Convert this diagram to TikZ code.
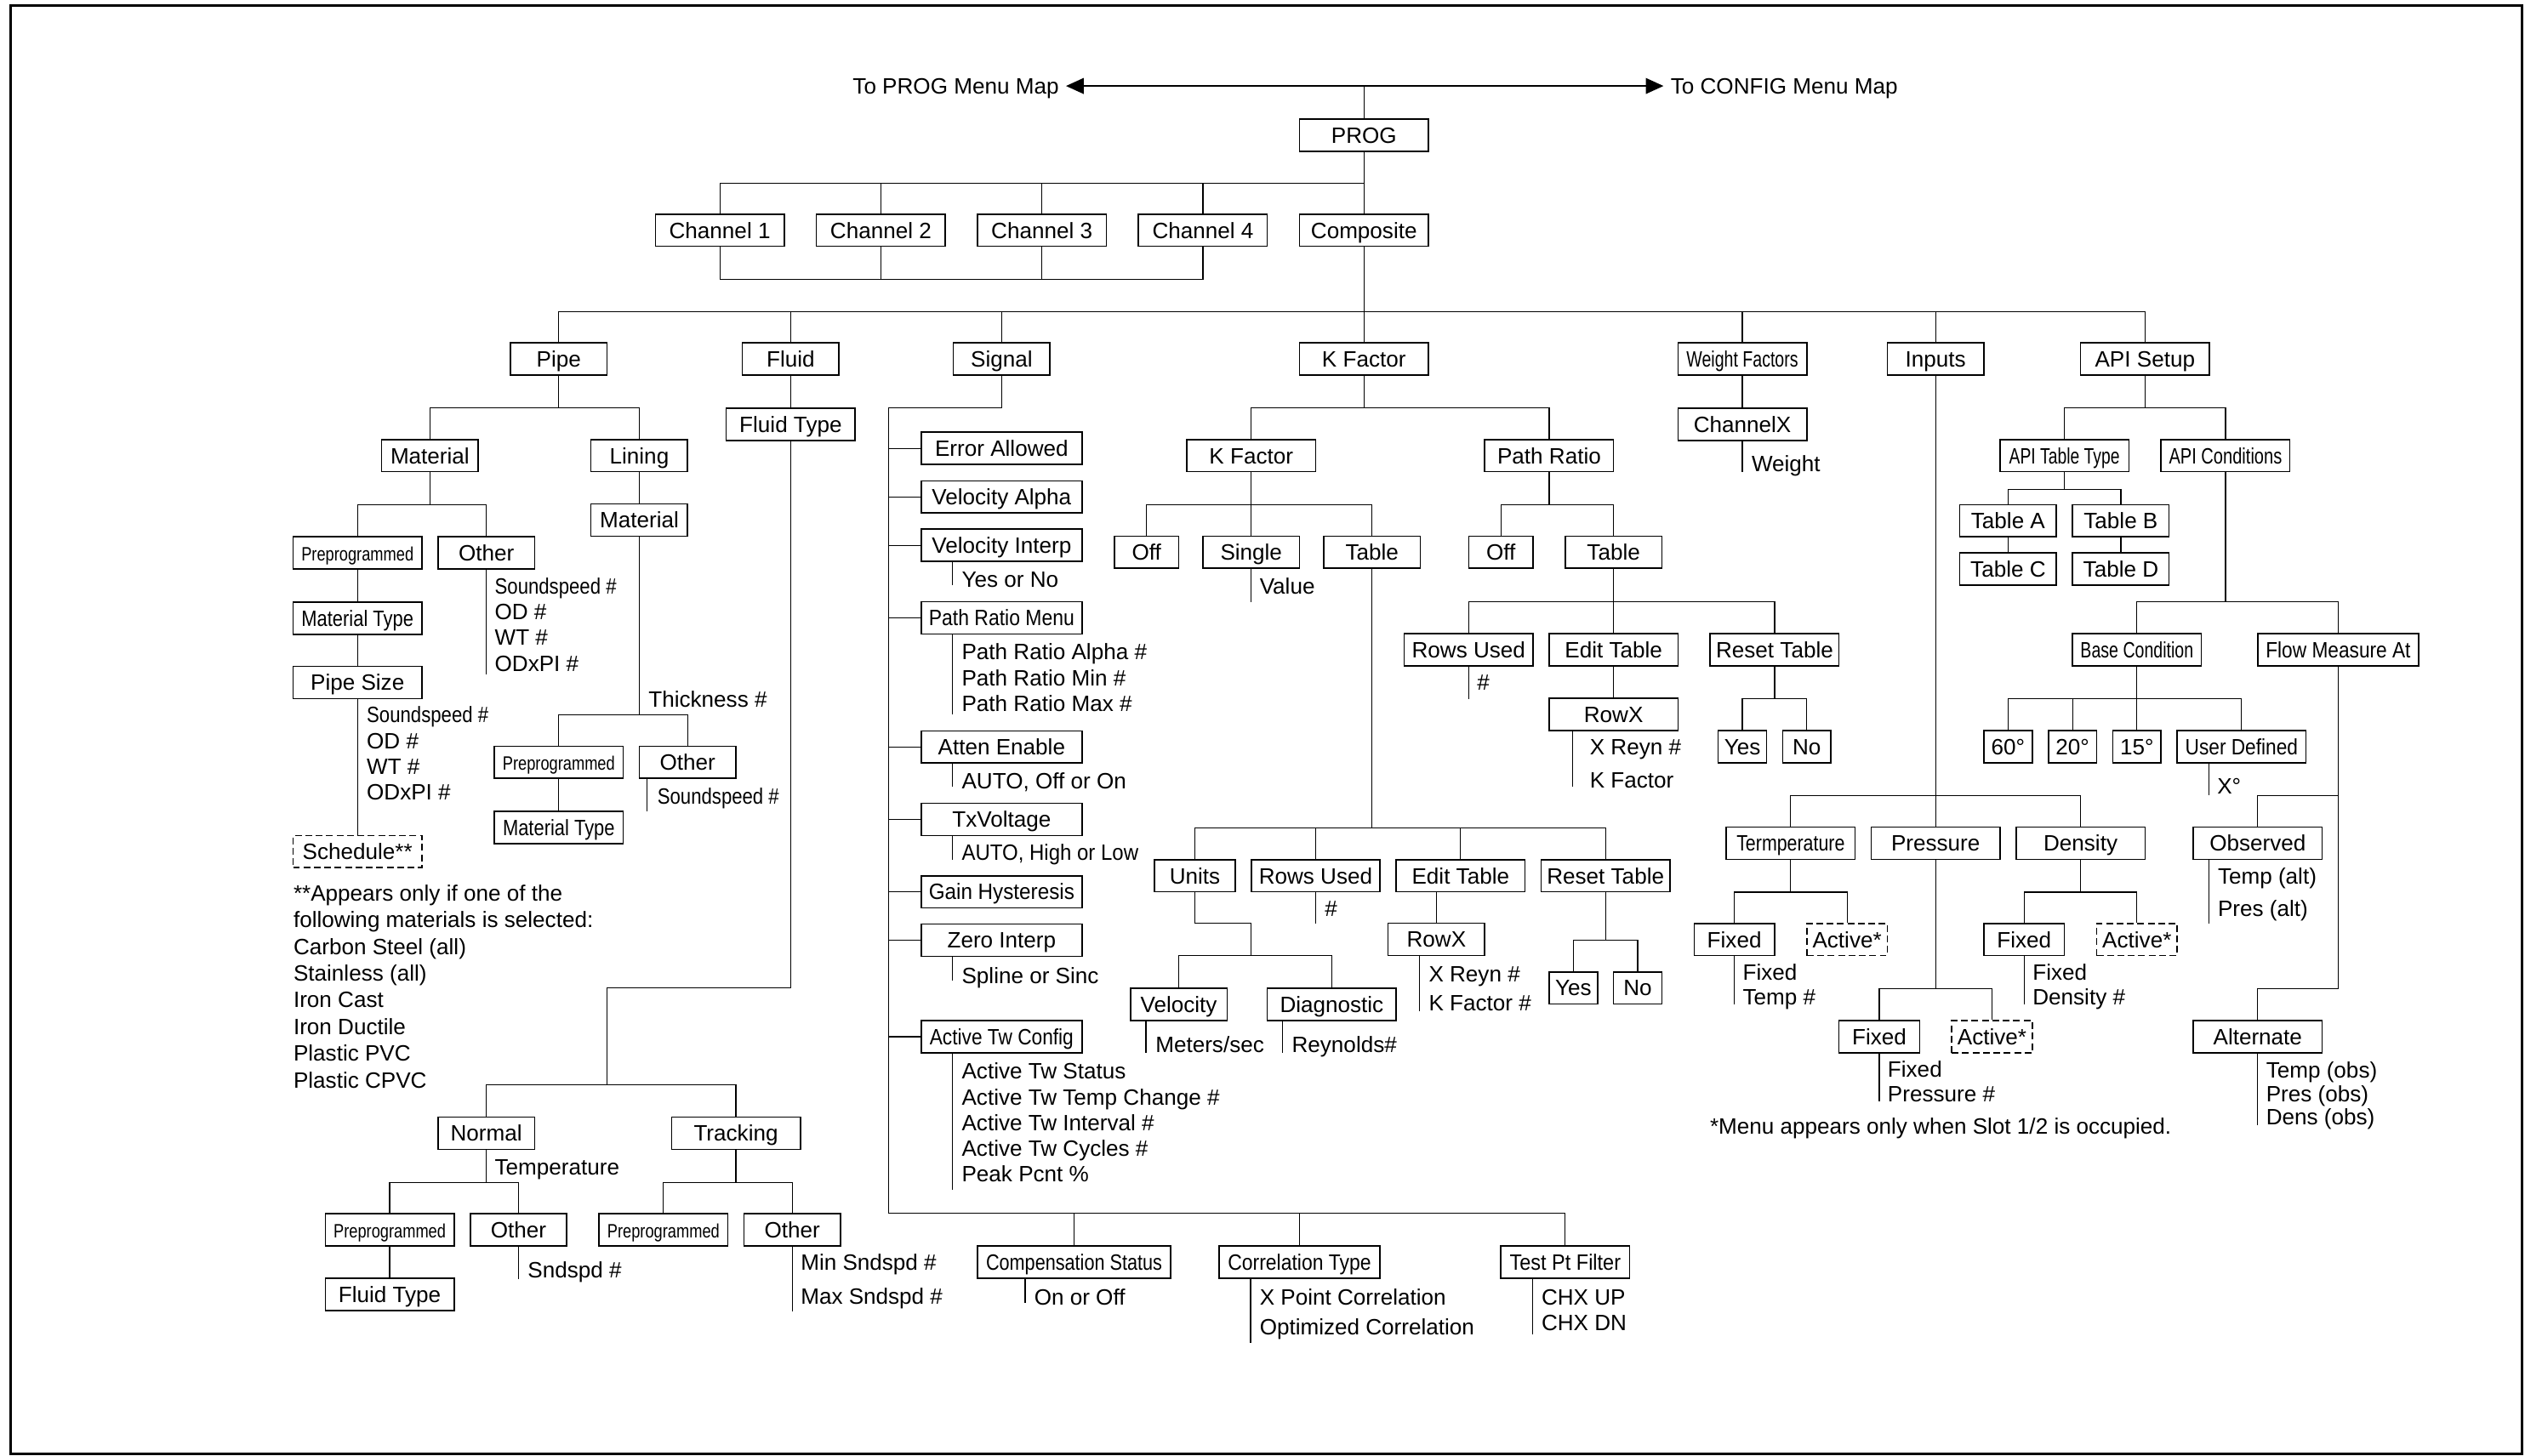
\documentclass[tikz,border=0pt]{standalone}
\usepackage{fontspec}
\setmainfont{Liberation Sans}
\usepackage{graphicx}
\usetikzlibrary{arrows.meta}
\newcommand{\mapfont}{\fontsize{9.8}{11.8}\selectfont}
\newcommand{\sqz}[3][1]{\scalebox{#2}[#1]{#3}}

\begin{document}
\begin{tikzpicture}
	[
		x={(0.025cm,0cm)},
		y={(0cm,-0.025cm)},
		box/.style={draw, line width=0.6pt, minimum height=0.5cm, inner sep=1pt,
			text height=7pt, text depth=0pt, font=\mapfont},
		dbox/.style={box, dash pattern=on 3pt off 1.6pt},
		wd/.style={minimum width=#1*0.025cm},
		lbl/.style={anchor=west, inner sep=0pt, text height=7pt, text depth=0pt, font=\mapfont},
		link/.style={line width=0.45pt},
		maparrow/.style={line width=0.45pt, {Triangle[length=7.8pt,width=7pt]}-{Triangle[length=7.8pt,width=7pt]}}
	]
	\useasboundingbox (0,0) rectangle (1568,904);
	\draw[line width=1.1pt] (6.6,3.2) rectangle (1566.3,903.2);

	% Top
	\node[lbl, anchor=east, inner sep=3pt] (toprog) at (662,53.4) {To PROG Menu Map};
	\node[lbl, inner sep=3pt] (toconf) at (1033,53.4) {To CONFIG Menu Map};
	\draw[maparrow] (toprog) -- (toconf);
	\node[box, wd=80] (prog) at (847,84) {PROG};
	\draw[link] (prog.north) -- (prog.north |- toprog.east);
	\foreach \n/\x in {1/447,2/547,3/647,4/747}
		\node[box, wd=80] (ch\n) at (\x,143) {Channel \n};
	\node[box, wd=80] (comp) at (847,143) {Composite};
	\draw[link] (prog.south) -- (comp.north);
	\foreach \n in {1,...,4}
		\draw[link] (prog.south) -- ++(0,19.5) -| (ch\n.north);
	\draw[link] (ch1.south) -- ++(0,20) -| (ch4.south);
	\draw[link] (ch2.south) -- ++(0,20);
	\draw[link] (ch3.south) -- ++(0,20);

	% Composite menu
	\node[box, wd=60] (pipe) at (347,223) {Pipe};
	\node[box, wd=60] (fluid) at (491,223) {Fluid};
	\node[box, wd=60] (signal) at (622,223) {Signal};
	\node[box, wd=80] (kfac) at (847,223) {K Factor};
	\node[box, wd=80] (wfac) at (1082,223) {\sqz{0.75}{Weight Factors}};
	\node[box, wd=60] (inputs) at (1202,223) {Inputs};
	\node[box, wd=80] (api) at (1332,223) {API Setup};
	\draw[link] (comp.south) -- (kfac.north);
	\foreach \n in {pipe,fluid,signal,wfac,inputs,api}
		\draw[link] (comp.south) -- ++(0,40) -| (\n.north);

	% Pipe
	\node[box, wd=60] (mat) at (267,283) {Material};
	\node[box, wd=60] (lin) at (397,283) {Lining};
	\foreach \n in {mat,lin}
		\draw[link] (pipe.south) -- ++(0,20) -| (\n.north);
	\node[box, wd=80] (pre1) at (222,343.5) {\sqz[0.87]{0.70}{Preprogrammed}};
	\node[box, wd=60] (oth1) at (302,343.5) {Other};
	\foreach \n in {pre1,oth1}
		\draw[link] (mat.south) -- ++(0,20) -| (\n.north);
	\node[box, wd=80] (mtype1) at (222,384) {\sqz{0.84}{Material Type}};
	\node[box, wd=80] (psize) at (222,424) {Pipe Size};
	\node[dbox, wd=80] (sched) at (222,529) {Schedule**};
	\draw[link] (pre1.south) -- (mtype1.north);
	\draw[link] (mtype1.south) -- (psize.north);
	\draw[link] (psize.south) -- (sched.north);
	\draw[link] (oth1.south) -- ++(0,65);
	\foreach \y/\txt [count=\i] in {364/\sqz{0.85}{Soundspeed \#},380/OD \#,396/WT \#,412/ODxPI \#}
		\node[lbl] (oth1l\i) at (307,\y) {\txt};
	\foreach \y/\txt [count=\i] in {444/\sqz{0.85}{Soundspeed \#},460/OD \#,476/WT \#,492/ODxPI \#}
		\node[lbl] (psizel\i) at (227.5,\y) {\txt};
	\foreach \y/\txt [count=\i] in {554.7/**Appears only if one of the,
			571.3/following materials is selected:, 588/Carbon Steel (all),
			604.5/Stainless (all), 621/Iron Cast, 637.5/Iron Ductile,
			654/Plastic PVC, 671/Plastic CPVC}
		\node[lbl] (note\i) at (182,\y) {\txt};

	% Lining
	\node[box, wd=60] (lmat) at (397,323) {Material};
	\draw[link] (lin.south) -- (lmat.north);
	\node[box, wd=80] (pre2) at (347,473.5) {\sqz[0.87]{0.70}{Preprogrammed}};
	\node[box, wd=60] (oth2) at (427,473.5) {Other};
	\foreach \n in {pre2,oth2}
		\draw[link] (lmat.south) -- ++(0,110.8) -| (\n.north);
	\node[lbl] (thick) at (402.5,434.6) {Thickness \#};
	\node[box, wd=80] (mtype2) at (347,514) {\sqz{0.84}{Material Type}};
	\draw[link] (pre2.south) -- (mtype2.north);
	\draw[link] (oth2.south west) ++(5,0) -- ++(0,20);
	\node[lbl] (oth2l) at (408,494.5) {\sqz{0.85}{Soundspeed \#}};

	% Fluid
	\node[box, wd=80] (ftype1) at (491,263.5) {Fluid Type};
	\draw[link] (fluid.south) -- (ftype1.north);
	\coordinate (fbend) at (377,613.7);
	\node[box, wd=60] (normal) at (302,704) {Normal};
	\node[box, wd=80] (track) at (457,704) {Tracking};
	\draw[link] (ftype1.south) |- (fbend) -- ++(0,60) -| (normal.north);
	\draw[link] (fbend) ++(0,60) -| (track.north);
	\node[lbl] (ntemp) at (307,724.7) {Temperature};
	\node[box, wd=80] (pre3) at (242,764) {\sqz[0.87]{0.70}{Preprogrammed}};
	\node[box, wd=60] (oth3) at (322,764) {Other};
	\foreach \n in {pre3,oth3}
		\draw[link] (normal.south) -- ++(0,20) -| (\n.north);
	\node[box, wd=80] (ftype2) at (242,804) {Fluid Type};
	\draw[link] (pre3.south) -- (ftype2.north);
	\draw[link] (oth3.south) -- ++(0,20);
	\node[lbl] (oth3l) at (327.5,789) {Sndspd \#};
	\node[box, wd=80] (pre4) at (412,764) {\sqz[0.87]{0.70}{Preprogrammed}};
	\node[box, wd=60] (oth4) at (492,764) {Other};
	\foreach \n in {pre4,oth4}
		\draw[link] (track.south) -- ++(0,20) -| (\n.north);
	\draw[link] (oth4.south) -- ++(0,40);
	\node[lbl] (oth4l1) at (497,784) {Min Sndspd \#};
	\node[lbl] (oth4l2) at (497,805) {Max Sndspd \#};

	% Signal
	\coordinate (sbus) at (552,253.5);
	\coordinate (sbot) at (552,753.8);
	\draw[link] (signal.south) |- (sbus) -- (sbot);
	\foreach \n/\y/\txt in {errall/278.5/Error Allowed, valpha/308.7/Velocity Alpha,
			vinterp/338.7/Velocity Interp, prmenu/383.8/{\sqz{0.88}{Path Ratio Menu}},
			atten/464/Atten Enable, txv/509/TxVoltage,
			gainh/554/{\sqz{0.93}{Gain Hysteresis}}, zinterp/584/Zero Interp,
			atw/644/{\sqz{0.87}{Active Tw Config}}}
		{
			\node[box, wd=100] (\n) at (622,\y) {\txt};
			\draw[link] (\n.west) -- (\n.west -| sbus);
		}
	\draw[link] (vinterp.south west) ++(20,0) -- ++(0,14.5);
	\node[lbl] (vinterpl) at (597,359.8) {Yes or No};
	\draw[link] (prmenu.south west) ++(20,0) -- ++(0,49.6);
	\foreach \y/\txt [count=\i] in {405/Path Ratio Alpha \#, 421/Path Ratio Min \#, 437/Path Ratio Max \#}
		\node[lbl] (prmenul\i) at (597,\y) {\txt};
	\draw[link] (atten.south west) ++(20,0) -- ++(0,14);
	\node[lbl] (attenl) at (597,485) {AUTO, Off or On};
	\draw[link] (txv.south west) ++(20,0) -- ++(0,14.6);
	\node[lbl] (txvl) at (597,529.4) {\sqz{0.92}{AUTO, High or Low}};
	\draw[link] (zinterp.south west) ++(20,0) -- ++(0,14.6);
	\node[lbl] (zinterpl) at (597,605.8) {Spline or Sinc};
	\draw[link] (atw.south west) ++(20,0) -- ++(0,84.6);
	\foreach \y/\txt [count=\i] in {665/Active Tw Status, 681.5/Active Tw Temp Change \#,
			697.4/Active Tw Interval \#, 713.3/Active Tw Cycles \#, 729.4/Peak Pcnt \%}
		\node[lbl] (atwl\i) at (597,\y) {\txt};
	\node[box, wd=120] (compst) at (667,784) {\sqz{0.83}{Compensation Status}};
	\node[box, wd=100] (corr) at (807,784) {\sqz{0.88}{Correlation Type}};
	\node[box, wd=80] (tpf) at (972,784) {\sqz{0.9}{Test Pt Filter}};
	\foreach \n in {compst,corr,tpf}
		\draw[link] (sbot) -| (\n.north);
	\draw[link] (compst.south west) ++(30,0) -- ++(0,15);
	\node[lbl] (compstl) at (642,805.5) {On or Off};
	\draw[link] (corr.south west) ++(20,0) -- ++(0,39.5);
	\node[lbl] (corrl1) at (782,805.5) {X Point Correlation};
	\node[lbl] (corrl2) at (782,824) {Optimized Correlation};
	\draw[link] (tpf.south west) ++(20,0) -- ++(0,34.6);
	\node[lbl] (tpfl1) at (957,805.5) {CHX UP};
	\node[lbl] (tpfl2) at (957,821.4) {CHX DN};

	% K Factor
	\node[box, wd=80] (kf2) at (777,283) {K Factor};
	\node[box, wd=80] (pratio) at (962,283) {Path Ratio};
	\foreach \n in {kf2,pratio}
		\draw[link] (kfac.south) -- ++(0,20) -| (\n.north);
	\node[box, wd=40] (off1) at (712,343) {Off};
	\node[box, wd=60] (single) at (777,343) {Single};
	\node[box, wd=60] (table1) at (852,343) {Table};
	\draw[link] (kf2.south) -- (single.north);
	\foreach \n in {off1,table1}
		\draw[link] (kf2.south) -- ++(0,20) -| (\n.north);
	\draw[link] (single.south) -- ++(0,20.5);
	\node[lbl] (singlel) at (782,364) {Value};
	\node[box, wd=50] (units) at (742,544) {Units};
	\node[box, wd=80] (rows1) at (817,544) {Rows Used};
	\node[box, wd=80] (edit1) at (907,544) {Edit Table};
	\node[box, wd=80] (reset1) at (997,544) {Reset Table};
	\foreach \n in {units,rows1,edit1,reset1}
		\draw[link] (table1.south) -- ++(0,160.8) -| (\n.north);
	\draw[link] (rows1.south) -- ++(0,19.5);
	\node[lbl] (rows1l) at (822.5,564.5) {\#};
	\coordinate (ubend) at (777,573.5);
	\node[box, wd=60] (velo) at (732,624) {Velocity};
	\node[box, wd=80] (diag) at (827,624) {Diagnostic};
	\draw[link] (units.south) |- (ubend) -- ++(0,20.1) -| (velo.north);
	\draw[link] (ubend) ++(0,20.1) -| (diag.north);
	\draw[link] (velo.south west) ++(10,0) -- ++(0,19.7);
	\node[lbl] (velol) at (717.3,649) {Meters/sec};
	\draw[link] (diag.south west) ++(10,0) -- ++(0,19.7);
	\node[lbl] (diagl) at (802,649) {Reynolds\#};
	\node[box, wd=60] (rowx1) at (892,583.5) {RowX};
	\draw[link] (edit1.south -| rowx1.north) -- (rowx1.north);
	\draw[link] (rowx1.south west) ++(20,0) -- ++(0,34.4);
	\node[lbl] (rowx1l1) at (887,605) {X Reyn \#};
	\node[lbl] (rowx1l2) at (887,623) {K Factor \#};
	\node[box, wd=30] (yes1) at (977,613.7) {Yes};
	\node[box, wd=30] (no1) at (1017,613.7) {No};
	\foreach \n in {yes1,no1}
		\draw[link] (reset1.south) -- ++(0,29.7) -| (\n.north);

	% Path Ratio
	\node[box, wd=40] (off2) at (932,343) {Off};
	\node[box, wd=60] (table2) at (1002,343) {Table};
	\foreach \n in {off2,table2}
		\draw[link] (pratio.south) -- ++(0,20) -| (\n.north);
	\node[box, wd=80] (rows2) at (912,403.7) {Rows Used};
	\node[box, wd=80] (edit2) at (1002,403.7) {Edit Table};
	\node[box, wd=80] (reset2) at (1102,403.7) {Reset Table};
	\foreach \n in {rows2,edit2,reset2}
		\draw[link] (table2.south) -- ++(0,20.5) -| (\n.north);
	\draw[link] (rows2.south) -- ++(0,19.9);
	\node[lbl] (rows2l) at (917,424) {\#};
	\node[box, wd=80] (rowx2) at (1002,443.7) {RowX};
	\draw[link] (edit2.south) -- (rowx2.north);
	\draw[link] (rowx2.south west) ++(15,0) -- ++(0,34.3);
	\node[lbl] (rowx2l1) at (987,463.8) {X Reyn \#};
	\node[lbl] (rowx2l2) at (987,484.5) {K Factor};
	\node[box, wd=30] (yes2) at (1082,463.8) {Yes};
	\node[box, wd=30] (no2) at (1122,463.8) {No};
	\foreach \n in {yes2,no2}
		\draw[link] (reset2.south) -- ++(0,19.9) -| (\n.north);

	% Weight Factors
	\node[box, wd=80] (chx) at (1082,263.5) {ChannelX};
	\draw[link] (wfac.south) -- (chx.north);
	\draw[link] (chx.south) -- ++(0,19.5);
	\node[lbl] (chxl) at (1087.5,288) {Weight};

	% Inputs
	\node[box, wd=80] (temp) at (1112,523.8) {\sqz{0.82}{Termperature}};
	\node[box, wd=80] (press) at (1202,523.8) {Pressure};
	\node[box, wd=80] (dens) at (1292,523.8) {Density};
	\draw[link] (inputs.south) -- (press.north);
	\foreach \n in {temp,dens}
		\draw[link] (inputs.south) -- ++(0,260.8) -| (\n.north);
	\node[box, wd=50] (fix1) at (1077,583.6) {Fixed};
	\node[dbox, wd=50] (act1) at (1147,583.6) {Active*};
	\foreach \n in {fix1,act1}
		\draw[link] (temp.south) -- ++(0,20) -| (\n.north);
	\draw[link] (fix1.south) -- ++(0,29.8);
	\node[lbl] (fix1l1) at (1082,603.8) {Fixed};
	\node[lbl] (fix1l2) at (1082,619) {Temp \#};
	\node[box, wd=50] (fix2) at (1167,644) {Fixed};
	\node[dbox, wd=50] (act2) at (1237,644) {Active*};
	\foreach \n in {fix2,act2}
		\draw[link] (press.south) -- ++(0,79.9) -| (\n.north);
	\draw[link] (fix2.south) -- ++(0,29.6);
	\node[lbl] (fix2l1) at (1172,664) {Fixed};
	\node[lbl] (fix2l2) at (1172,679.5) {Pressure \#};
	\node[box, wd=50] (fix3) at (1257,583.6) {Fixed};
	\node[dbox, wd=50] (act3) at (1327,583.6) {Active*};
	\foreach \n in {fix3,act3}
		\draw[link] (dens.south) -- ++(0,20) -| (\n.north);
	\draw[link] (fix3.south) -- ++(0,29.8);
	\node[lbl] (fix3l1) at (1262,603.8) {Fixed};
	\node[lbl] (fix3l2) at (1262,619) {Density \#};
	\node[lbl] (slotnote) at (1061.6,699.5) {*Menu appears only when Slot 1/2 is occupied.};

	% API Setup
	\node[box, wd=80] (att) at (1282,283) {\sqz{0.74}{API Table Type}};
	\node[box, wd=80] (acond) at (1382,283) {\sqz{0.77}{API Conditions}};
	\foreach \n in {att,acond}
		\draw[link] (api.south) -- ++(0,20) -| (\n.north);
	\node[box, wd=60] (tabA) at (1247,323.5) {Table A};
	\node[box, wd=60] (tabB) at (1317,323.5) {Table B};
	\node[box, wd=60] (tabC) at (1247,353.5) {Table C};
	\node[box, wd=60] (tabD) at (1317,353.5) {Table D};
	\foreach \n in {tabA,tabB}
		\draw[link] (att.south) -- ++(0,10.5) -| (\n.north);
	\draw[link] (tabA.south) -- (tabC.north);
	\draw[link] (tabB.south) -- (tabD.north);
	\node[box, wd=80] (base) at (1327,403.7) {\sqz{0.75}{Base Condition}};
	\node[box, wd=100] (flow) at (1452,403.7) {\sqz{0.87}{Flow Measure At}};
	\foreach \n in {base,flow}
		\draw[link] (acond.south) -- ++(0,80.5) -| (\n.north);
	\foreach \n/\x/\txt in {d60/1247/60°, d20/1287/20°, d15/1327/15°}
		\node[box, wd=30] (\n) at (\x,463.8) {\txt};
	\node[box, wd=80] (udef) at (1392,463.8) {\sqz{0.87}{User Defined}};
	\foreach \n in {d60,d20,d15,udef}
		\draw[link] (base.south) -- ++(0,19.9) -| (\n.north);
	\draw[link] (udef.south west) ++(20,0) -- ++(0,19.8);
	\node[lbl] (udefl) at (1376.6,488) {X°};
	\node[box, wd=80] (obs) at (1402,523.8) {Observed};
	\node[box, wd=80] (alt) at (1402,644) {Alternate};
	\draw[link] (flow.south) -- ++(0,80.1) -| (obs.north);
	\draw[link] (flow.south) -- ++(0,200) -| (alt.north);
	\draw[link] (obs.south west) ++(10,0) -- ++(0,39.7);
	\node[lbl] (obsl1) at (1377,544.4) {Temp (alt)};
	\node[lbl] (obsl2) at (1377,564.5) {Pres (alt)};
	\draw[link] (alt.south) -- ++(0,44.7);
	\foreach \y/\txt [count=\i] in {664.5/Temp (obs), 679.5/Pres (obs), 694/Dens (obs)}
		\node[lbl] (altl\i) at (1407,\y) {\txt};
\end{tikzpicture}
\end{document}
